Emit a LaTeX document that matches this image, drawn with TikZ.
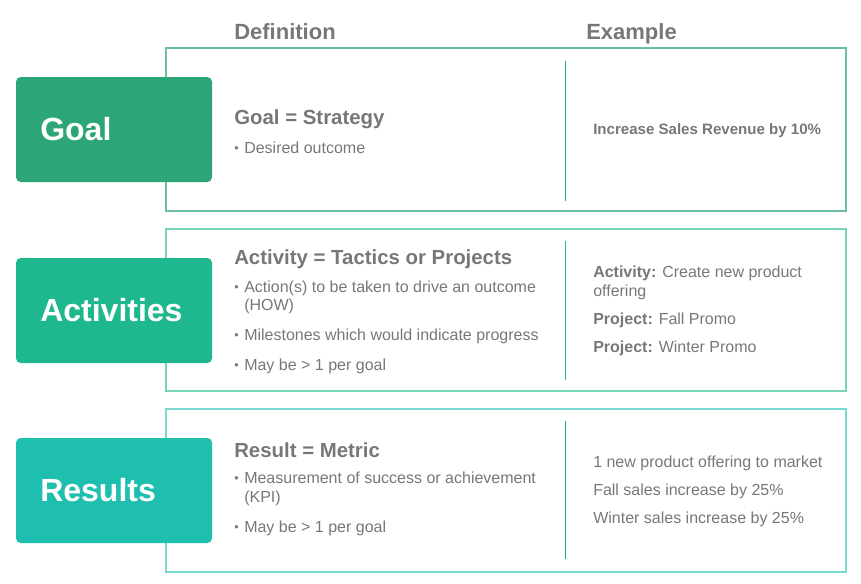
\documentclass[tikz,border=0pt]{standalone}
\usepackage{fontspec}
\setmainfont{Liberation Sans}
\definecolor{goalgreen}{RGB}{44,166,118}
\definecolor{actgreen}{RGB}{31,183,141}
\definecolor{resteal}{RGB}{31,191,176}
\definecolor{txtgray}{RGB}{119,119,119}
\newcommand{\bul}{\makebox[7.5pt][l]{\fontsize{9.5}{9.5}\selectfont\raisebox{0.3pt}{•}}}
\begin{document}
\begin{tikzpicture}[x=0.75pt,y=-0.75pt,
  head/.style={anchor=base west,inner sep=0,text=txtgray,font=\fontsize{16.5}{18}\selectfont\bfseries},
  deftitle/.style={anchor=base west,inner sep=0,text=txtgray,font=\fontsize{15.3}{17}\selectfont\bfseries},
  body/.style={anchor=base west,inner sep=0,text=txtgray,font=\fontsize{12}{14}\selectfont},
  boxlabel/.style={anchor=west,inner sep=0,text=white,font=\fontsize{24}{26}\selectfont\bfseries}]
\useasboundingbox (0,0) rectangle (861,583);

\node[head] (defhead) at (234,39) {Definition};
\node[head] (exhead) at (586,39) {Example};

\draw [goalgreen!70,line width=1.1pt] (166,48) rectangle (846,211);
\fill [goalgreen,rounded corners=3.5pt] (16,77) rectangle (212,182);
\draw [goalgreen,line width=0.75pt] (565,61)--(565,201);
\node[boxlabel] (goal) at (40,129) {Goal};
\node[deftitle] (goaldef) at (234,124) {Goal = Strategy};
\node[body] (goalb1) at (234,153) {\bul Desired outcome};
\node[body,font=\fontsize{11.3}{14}\selectfont\bfseries] (goalex) at (593,134) {Increase Sales Revenue by 10\%};

\draw [actgreen!60,line width=1.1pt] (166,229) rectangle (846,391);
\fill [actgreen,rounded corners=3.5pt] (16,258) rectangle (212,363);
\draw [actgreen,line width=0.75pt] (565,241)--(565,380);
\node[boxlabel] (act) at (40,310) {Activities};
\node[deftitle] (actdef) at (234,264) {Activity = Tactics or Projects};
\node[body] (actb1) at (234,292) {\bul Action(s) to be taken to drive an outcome};
\node[body] (actb1b) at (244,310) {(HOW)};
\node[body] (actb2) at (234,340) {\bul Milestones which would indicate progress};
\node[body] (actb3) at (234,370) {\bul May be > 1 per goal};
\node[body] (actex1) at (593,277) {\textbf{Activity:} Create new product};
\node[body] (actex1b) at (593,296) {offering};
\node[body] (actex2) at (593,324) {\textbf{Project:} Fall Promo};
\node[body] (actex3) at (593,352) {\textbf{Project:} Winter Promo};

\draw [resteal!60,line width=1.1pt] (166,409) rectangle (846,572);
\fill [resteal,rounded corners=3.5pt] (16,438) rectangle (212,543);
\draw [resteal!85!black,line width=0.75pt] (565,421)--(565,559);
\node[boxlabel] (res) at (40,490) {Results};
\node[deftitle] (resdef) at (234,457) {Result = Metric};
\node[body] (resb1) at (234,483) {\bul Measurement of success or achievement};
\node[body] (resb1b) at (244,502) {(KPI)};
\node[body] (resb2) at (234,532) {\bul May be > 1 per goal};
\node[body] (resex1) at (593,467) {1 new product offering to market};
\node[body] (resex2) at (593,495) {Fall sales increase by 25\%};
\node[body] (resex3) at (593,523) {Winter sales increase by 25\%};
\end{tikzpicture}
\end{document}
